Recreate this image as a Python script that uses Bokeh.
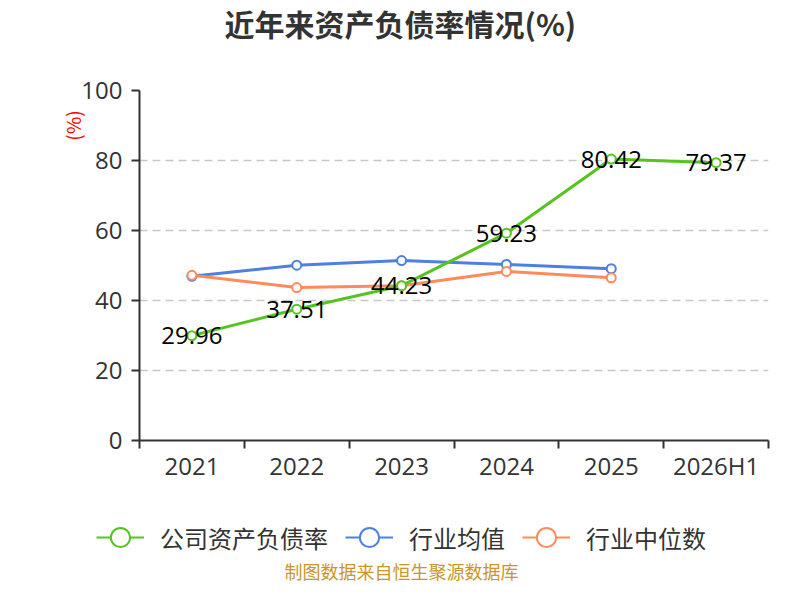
from bokeh.embed import file_html
from bokeh.layouts import column
from bokeh.models import ColumnDataSource, FixedTicker, Label, Legend, LegendItem, LinearAxis, Range1d
from bokeh.plotting import figure
from bokeh.resources import INLINE

years = ["2021", "2022", "2023", "2024", "2025", "2026H1"]
company = [29.96, 37.51, 44.23, 59.23, 80.42, 79.37]
industry_avg = [46.9, 50.1, 51.4, 50.3, 49.1]
industry_median = [47.2, 43.7, 44.2, 48.3, 46.5]

CJK = "Noto Sans CJK SC"
NUM = "Open Sans"
GREEN = "#56c41e"
BLUE = "#4e7fe3"
ORANGE = "#ff8a5b"
DARK = "#333333"
W = 784

# each year gets a slot [i, i+1]; the point sits in the middle
xs = [i + 0.5 for i in range(len(years))]

src_c = ColumnDataSource(dict(x=xs, y=company, label=[f"{v:.2f}" for v in company]))
src_a = ColumnDataSource(dict(x=xs[:len(industry_avg)], y=industry_avg))
src_m = ColumnDataSource(dict(x=xs[:len(industry_median)], y=industry_median))


def blank(height):
    f = figure(width=W, height=height, x_range=Range1d(0, 1), y_range=Range1d(0, 1),
               x_axis_type=None, y_axis_type=None, output_backend="svg",
               toolbar_location=None, min_border=0)
    f.frame_align = False
    f.outline_line_color = None
    f.grid.visible = False
    return f


# --- title strip
p_title = blank(60)
p_title.add_layout(Label(x=0.51, y=0.62, text="近年来资产负债率情况(%)", text_align="center",
                         text_baseline="middle", text_font=CJK, text_font_size="30px",
                         text_font_style="bold", text_color=DARK))

# --- main chart
p = figure(
    width=W,
    height=430,
    x_range=Range1d(0, len(years)),
    y_range=Range1d(0, 100),
    output_backend="svg",
    toolbar_location=None,
    min_border_left=139,
    min_border_right=16,
    min_border_top=30,
    min_border_bottom=50,
)
p.frame_align = False
p.outline_line_color = None

p.xaxis.ticker = FixedTicker(ticks=xs, minor_ticks=list(range(len(years) + 1)))
p.xaxis.major_label_overrides = {x: y for x, y in zip(xs, years)}
p.xaxis.major_tick_out = 0
p.xaxis.major_tick_in = 0
p.xaxis.minor_tick_out = 8
p.xaxis.minor_tick_in = 0
p.xaxis.minor_tick_line_color = DARK
p.xaxis.minor_tick_line_width = 2
p.xaxis.major_label_standoff = 0

p.yaxis.ticker = FixedTicker(ticks=[0, 20, 40, 60, 80, 100])
p.yaxis.major_tick_out = 8
p.yaxis.major_tick_in = 0
p.yaxis.minor_tick_line_color = None
p.yaxis.major_label_standoff = 9

for ax in (p.xaxis, p.yaxis):
    ax.axis_line_color = DARK
    ax.axis_line_width = 2
    ax.major_tick_line_color = DARK
    ax.major_tick_line_width = 2
    ax.major_label_text_font = NUM
    ax.major_label_text_font_size = "24px"
    ax.major_label_text_color = DARK

# unit label near the top of the value axis, as a bare outer axis
unit_axis = LinearAxis(
    ticker=FixedTicker(ticks=[90]),
    major_label_overrides={90: "(%)"},
    major_label_orientation="vertical",
    major_label_standoff=-13,
    major_label_text_font=CJK,
    major_label_text_font_size="19px",
    major_label_text_color="red",
    axis_line_color=None,
    major_tick_line_color=None,
    minor_tick_line_color=None,
)
p.add_layout(unit_axis, "left")

p.xgrid.grid_line_color = None
p.ygrid.ticker = FixedTicker(ticks=[20, 40, 60, 80, 100])
p.ygrid.grid_line_color = "#c8c8c8"
p.ygrid.grid_line_dash = "8 5"
p.ygrid.grid_line_width = 1.5

p.line("x", "y", source=src_a, line_color=BLUE, line_width=3)
p.scatter("x", "y", source=src_a, size=9, fill_color="white", line_color=BLUE, line_width=2)
p.line("x", "y", source=src_m, line_color=ORANGE, line_width=3)
p.scatter("x", "y", source=src_m, size=9, fill_color="white", line_color=ORANGE, line_width=2)
p.line("x", "y", source=src_c, line_color=GREEN, line_width=3)
p.scatter("x", "y", source=src_c, size=9, fill_color="white", line_color=GREEN, line_width=2)

p.text("x", "y", text="label", source=src_c, text_align="center", text_baseline="middle",
       text_font={"value": NUM}, text_font_size="24px", text_color="black")

# --- legend + source strip (series drawn again but outside the 0..1 view, only for the legend)
p_leg = blank(94)
p_leg.min_border_left = 18
items = []
for name, src, color in [("公司资产负债率", src_c, GREEN), ("行业均值", src_a, BLUE),
                         ("行业中位数", src_m, ORANGE)]:
    ln = p_leg.line("x", "y", source=src, line_color=color, line_width=2)
    mk = p_leg.scatter("x", "y", source=src, size=9, fill_color="white", line_color=color, line_width=2)
    items.append(LegendItem(label=name, renderers=[ln, mk]))

legend = Legend(
    items=items,
    orientation="horizontal",
    location="center",
    glyph_width=48,
    glyph_height=48,
    label_standoff=16,
    spacing=17,
    padding=0,
    margin=0,
    border_line_color=None,
    background_fill_alpha=0,
    label_text_font=CJK,
    label_text_font_size="24px",
    label_text_color=DARK,
)
p_leg.add_layout(legend, "center")
p_leg.add_layout(Label(x=0.5, y=0.14, text="制图数据来自恒生聚源数据库", text_align="center",
                       text_baseline="middle", text_font=CJK, text_font_size="18px",
                       text_color="#c9962a"))

layout = column(p_title, p, p_leg, spacing=0)
open("out.html", "w").write(file_html(layout, INLINE))
